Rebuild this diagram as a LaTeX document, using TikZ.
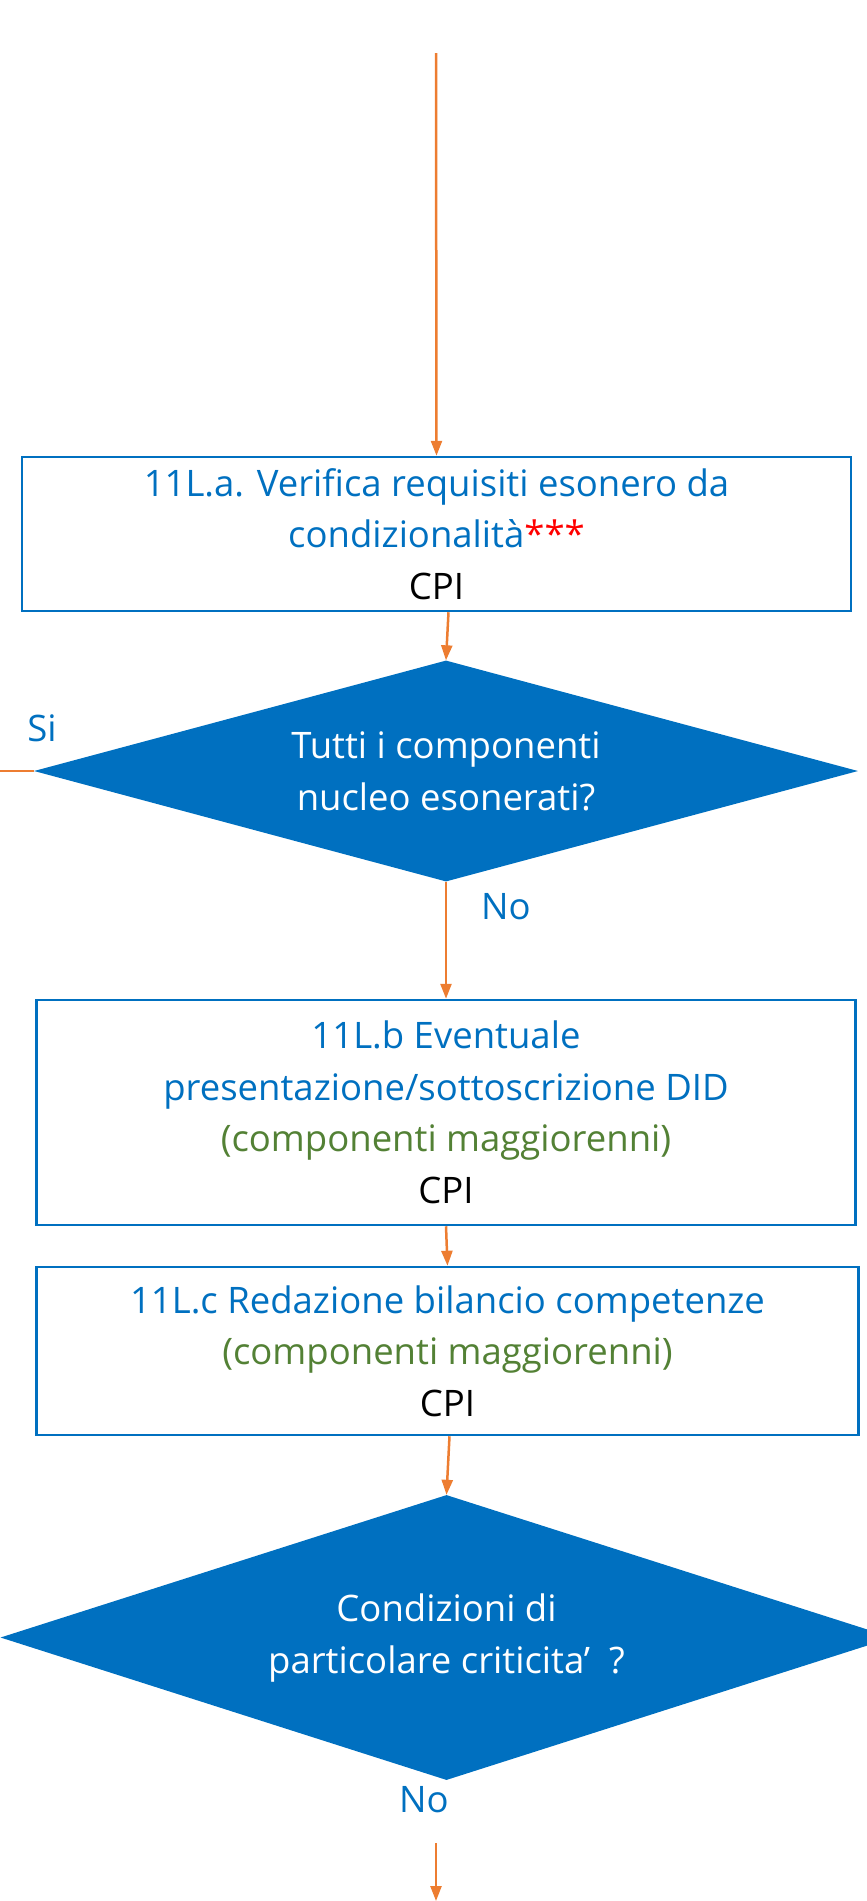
\documentclass[tikz,border=0pt]{standalone}
\usepackage{fontspec}
\setmainfont{Open Sans}
\usetikzlibrary{shapes.geometric,arrows.meta}
\definecolor{ofblue}{HTML}{0070C0}
\definecolor{oforange}{HTML}{ED7D31}
\definecolor{ofgreen}{HTML}{538135}
\definecolor{ofred}{HTML}{FF0000}
\begin{document}
\begin{tikzpicture}[x=1pt,y=-1pt,
    box/.style = {draw=ofblue, line width=2.5pt, rectangle, align=center, inner sep=0pt, text=ofblue, font=\fontsize{36.5}{51.5}\selectfont},
    dec/.style = {diamond, fill=ofblue, align=center, inner sep=0pt, text=white, font=\fontsize{36.5}{52}\selectfont},
    flow/.style = {draw=oforange, line width=2.5pt, -{Triangle[length=15pt,width=11pt]}},
    lbl/.style = {text=ofblue, font=\fontsize{36.5}{44}\selectfont}]
        \useasboundingbox (0,0) rectangle (867,1901);
        \clip (0,0) rectangle (867,1901);
        \node[box, minimum width=829pt, minimum height=154pt] (box1) at (436.5,534) {11L.a. Verifica requisiti esonero da\\condizionalità{\color{ofred}***}\\{\color{black}CPI}};
        \node[dec, aspect=3.73, minimum width=824pt, minimum height=221pt] (dec1) [below of=box1, node distance=237pt, xshift=9.5pt] {Tutti i componenti\\nucleo esonerati?};
        \node[box, minimum width=819pt, minimum height=225pt] (box2) [below of=dec1, node distance=341.5pt] {11L.b Eventuale\\presentazione/sottoscrizione DID\\{\color{ofgreen}(componenti maggiorenni)}\\{\color{black}CPI}};
        \node[box, minimum width=822pt, minimum height=168pt] (box3) [below of=box2, node distance=238.5pt, xshift=1.5pt] {11L.c Redazione bilancio competenze\\{\color{ofgreen}(componenti maggiorenni)}\\{\color{black}CPI}};
        \node[dec, aspect=3.13, minimum width=892pt, minimum height=285pt] (dec2) [below of=box3, node distance=286.5pt, xshift=-1pt] {Condizioni di\\particolare criticita’\ \ ?};
        \coordinate (in) at (436,53);
        \coordinate (si) at (0,771);
        \coordinate (out1) at (436,1843);
        \coordinate (out2) at (436,1901);
        \node[lbl] (lsi) at (42,728) {Si};
        \node[lbl] (lno1) at (506,907) {No};
        \node[lbl] (lno2) at (424,1800) {No};
        \draw[flow] (in) -- (box1.north);
        \draw[flow] ([xshift=12pt]box1.south) -- (dec1.north);
        \draw[draw=oforange, line width=2.5pt] (dec1.west) -- (si);
        \draw[flow] (dec1.south) -- (box2.north);
        \draw[flow] (box2.south) -- (box3.north);
        \draw[flow] ([xshift=2pt]box3.south) -- (dec2.north);
        \draw[flow] (out1) -- (out2);
\end{tikzpicture}
\end{document}
